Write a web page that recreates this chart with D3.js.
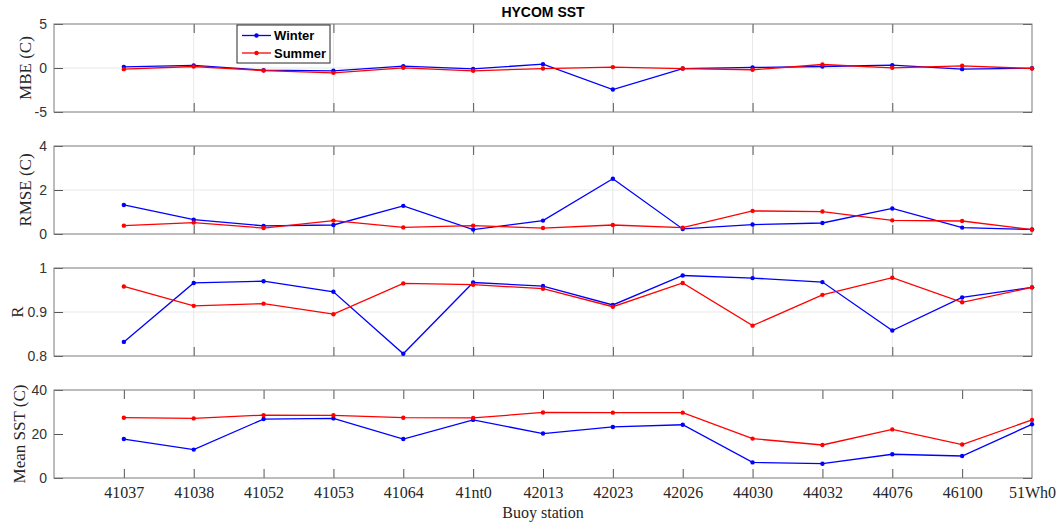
<!DOCTYPE html>
<html>
<head>
<meta charset="utf-8">
<script src="https://cdn.jsdelivr.net/npm/d3@7"></script>
<style>
  body { margin: 0; background: #fff; }
  .ylab, .xlab, .xt text { font-family: "Liberation Serif", "Times New Roman", serif; }
  .yt text { font-family: "Liberation Sans", Arial, sans-serif; font-size: 14px; fill: #333; }
  .grid { stroke: #e8e8e8; stroke-width: 1; }
</style>
</head>
<body>
<div id="chart"></div>
<script>
"use strict"

// stations along the x axis
const stations = ["41037", "41038", "41052", "41053", "41064", "41nt0", "42013",
    "42023", "42026", "44030", "44032", "44076", "46100", "51Wh0"];

// MBE (C)
const mbeWinter = [0.13, 0.29, -0.25, -0.32, 0.21, -0.1, 0.44, -2.45, -0.06, 0.06, 0.17, 0.32, -0.13, -0.02];
const mbeSummer = [-0.13, 0.17, -0.29, -0.55, 0.02, -0.32, -0.06, 0.1, -0.06, -0.2, 0.4, 0.02, 0.25, -0.06];
// RMSE (C)
const rmseWinter = [1.32, 0.65, 0.37, 0.41, 1.28, 0.2, 0.61, 2.51, 0.23, 0.43, 0.5, 1.16, 0.29, 0.21];
const rmseSummer = [0.38, 0.52, 0.27, 0.61, 0.3, 0.38, 0.27, 0.41, 0.29, 1.05, 1.02, 0.62, 0.59, 0.2];
// R
const rWinter = [0.832, 0.966, 0.970, 0.946, 0.805, 0.967, 0.959, 0.916, 0.983, 0.977, 0.968, 0.858, 0.933, 0.956];
const rSummer = [0.958, 0.914, 0.919, 0.895, 0.965, 0.962, 0.953, 0.912, 0.966, 0.869, 0.939, 0.978, 0.922, 0.956];
// Mean SST (C)
const sstWinter = [17.7, 12.9, 26.8, 27.1, 17.7, 26.4, 20.2, 23.2, 24.2, 7.1, 6.5, 10.8, 10.0, 24.4];
const sstSummer = [27.4, 27.1, 28.6, 28.5, 27.4, 27.3, 29.8, 29.7, 29.7, 17.9, 15.0, 22.1, 15.2, 26.4];

const panels = [
    {label: "MBE (C)", domain: [-5, 5], ticks: [-5, 0, 5], winter: mbeWinter, summer: mbeSummer, labX: 25},
    {label: "RMSE (C)", domain: [0, 4], ticks: [0, 2, 4], winter: rmseWinter, summer: rmseSummer, labX: 25},
    {label: "R", domain: [0.8, 1], ticks: [0.8, 0.9, 1], winter: rWinter, summer: rSummer, labX: 17},
    {label: "Mean SST (C)", domain: [0, 40], ticks: [0, 20, 40], winter: sstWinter, summer: sstSummer, labX: 19}
];

const width = 1057,
    height = 524,
    left = 54,
    right = 1032,
    panelH = 88,
    tops = [24, 146, 268, 390],
    tickLen = 9;

const svg = d3.select("#chart").append("svg")
    .attr("width", width)
    .attr("height", height);

const x = d3.scaleLinear()
    .domain([0, 14])
    .range([left, right]);

const gridX = [2, 4, 6, 8, 10, 12];

panels.forEach((p, k) => {
    const top = tops[k];
    const bottom = top + panelH;
    const last = k === panels.length - 1;
    const y = d3.scaleLinear().domain(p.domain).range([bottom, top]);
    const g = svg.append("g");

    // grid (upper panels only)
    if (!last) {
        g.selectAll("line.gx").data(gridX).enter().append("line")
            .attr("class", "grid")
            .attr("x1", d => x(d)).attr("x2", d => x(d))
            .attr("y1", top).attr("y2", bottom);
        g.append("line")
            .attr("class", "grid")
            .attr("x1", left).attr("x2", right)
            .attr("y1", y(p.ticks[1])).attr("y2", y(p.ticks[1]));
    }

    // y axes, ticks inside
    g.append("g")
        .attr("class", "yt")
        .attr("transform", "translate(" + left + ",0)")
        .call(d3.axisLeft(y).tickValues(p.ticks).tickSize(-tickLen).tickPadding(7)
            .tickFormat(d => String(d)))
        .call(a => a.select(".domain").remove())
        .call(a => a.selectAll("line").attr("stroke", "#555"));
    g.append("g")
        .attr("transform", "translate(" + right + ",0)")
        .call(d3.axisRight(y).tickValues(p.ticks).tickSize(-tickLen).tickFormat(""))
        .call(a => a.select(".domain").remove())
        .call(a => a.selectAll("line").attr("stroke", "#555"));

    // x axes
    const xv = last ? d3.range(1, 14) : gridX;
    const bx = g.append("g")
        .attr("class", "xt")
        .attr("transform", "translate(0," + bottom + ")")
        .call(d3.axisBottom(x).tickValues(last ? d3.range(1, 15) : gridX).tickSize(-tickLen).tickPadding(9)
            .tickFormat(last ? (d => stations[d - 1]) : ""))
        .call(a => a.select(".domain").remove())
        .call(a => a.selectAll("line").attr("stroke", "#555"));
    bx.selectAll("text").attr("font-size", 16).attr("fill", "#262626")
        .attr("font-family", "Liberation Serif, serif");
    bx.selectAll(".tick").filter(d => d === 14).select("line").remove();
    g.append("g")
        .attr("transform", "translate(0," + top + ")")
        .call(d3.axisTop(x).tickValues(xv).tickSize(-tickLen).tickFormat(""))
        .call(a => a.select(".domain").remove())
        .call(a => a.selectAll("line").attr("stroke", "#555"));

    // box
    g.append("rect")
        .attr("x", left).attr("y", top)
        .attr("width", right - left).attr("height", panelH)
        .attr("fill", "none")
        .attr("stroke", "#7a7a7a")
        .attr("stroke-width", 1);

    // y label
    g.append("text")
        .attr("class", "ylab")
        .attr("transform", "translate(" + p.labX + "," + (top + panelH / 2) + ") rotate(-90)")
        .attr("text-anchor", "middle")
        .attr("dy", "0.35em")
        .attr("font-size", 17)
        .attr("fill", "#262626")
        .text(p.label);

    // series
    const line = d3.line().x((d, i) => x(i + 1)).y(d => y(d));
    [[p.winter, "#0000ff"], [p.summer, "#ff0000"]].forEach(([vals, col]) => {
        g.append("path")
            .datum(vals)
            .attr("fill", "none")
            .attr("stroke", col)
            .attr("stroke-width", 1.3)
            .attr("d", line);
        g.selectAll(null).data(vals).enter().append("circle")
            .attr("cx", (d, i) => x(i + 1))
            .attr("cy", d => y(d))
            .attr("r", 2.2)
            .attr("fill", col);
    });
});

// title
svg.append("text")
    .attr("x", (left + right) / 2)
    .attr("y", 17)
    .attr("text-anchor", "middle")
    .attr("font-family", "Liberation Sans, Arial, sans-serif")
    .attr("font-weight", "bold")
    .attr("font-size", 14)
    .attr("fill", "#000")
    .text("HYCOM SST");

// x label
svg.append("text")
    .attr("class", "xlab")
    .attr("x", (left + right) / 2)
    .attr("y", 518)
    .attr("text-anchor", "middle")
    .attr("font-size", 16)
    .attr("fill", "#262626")
    .text("Buoy station");

// legend
const legend = svg.append("g").attr("transform", "translate(237,25)");
legend.append("rect")
    .attr("width", 93).attr("height", 38)
    .attr("fill", "#fff")
    .attr("stroke", "#262626")
    .attr("stroke-width", 1);
[["Winter", "#0000ff"], ["Summer", "#ff0000"]].forEach(([name, col], i) => {
    const ly = 10.5 + i * 17.5;
    legend.append("line")
        .attr("x1", 5).attr("x2", 34)
        .attr("y1", ly).attr("y2", ly)
        .attr("stroke", col).attr("stroke-width", 1.3);
    legend.append("circle")
        .attr("cx", 19.5).attr("cy", ly).attr("r", 2.2).attr("fill", col);
    legend.append("text")
        .attr("x", 37).attr("y", ly)
        .attr("dy", "0.35em")
        .attr("font-family", "Liberation Sans, Arial, sans-serif")
        .attr("font-weight", "bold")
        .attr("font-size", 13)
        .text(name);
});
</script>
</body>
</html>
